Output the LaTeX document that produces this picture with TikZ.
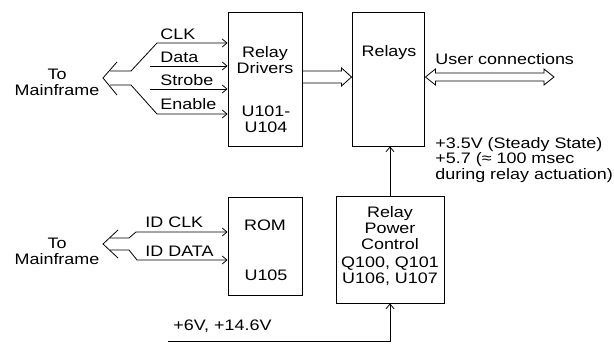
\documentclass[tikz,border=0pt]{standalone}
\usepackage{fontspec}
\setmainfont{Liberation Sans}[FakeStretch=1.18]
\usetikzlibrary{arrows.meta,calc,fit}

\begin{document}
\begin{tikzpicture}[
  x=0.75pt, y=-0.75pt,
  font=\fontsize{11.4}{12}\selectfont,
  line width=0.6pt,
  >={Straight Barb[length=3.5pt,width=6pt]},
  box/.style={draw, inner sep=0pt, line width=0.7pt},
  txt/.style={align=center, inner sep=0pt},
  lbl/.style={anchor=base west, inner sep=0pt},
]
\useasboundingbox (0,0) rectangle (614,345);

% ---- blocks ----
\node[box, fit={(228,12) (302,146)}] (drv) {};
\node[box, fit={(352,12) (424,146)}] (rel) {};
\node[box, fit={(228,197) (302,295)}] (rom) {};
\node[box, fit={(336,196) (444,303)}] (pwr) {};

\node[txt] (drvname) at (265,60) {Relay\\Drivers};
\node[txt] (drvic) at (266,119) {U101-\\U104};
\node[txt] (relname) at (389,53) {Relays};
\node[txt] (romname) at (265,225) {ROM};
\node[txt] (romic) at (266,275) {U105};
\node[txt] (pwrname) at (390,246)
  {Relay\\Power\\Control\\[2pt]Q100, Q101\\U106, U107};

% ---- control bus from mainframe ----
\node[txt] (mfA) at (57,82) {To\\Mainframe};
\coordinate (busA) at (103,78);
\draw (117,62) -- (busA) -- (117,95);
\coordinate (clk) at (157,43);
\coordinate (dat) at (150,66);
\coordinate (stb) at (150,89);
\coordinate (enb) at (157,114);
\draw[->] (110,71) -- (131,71) -- (clk) -- (clk -| drv.west);
\draw[->] (dat) -- (dat -| drv.west);
\draw[->] (stb) -- (stb -| drv.west);
\draw[->] (110,85) -- (131,85) -- (enb) -- (enb -| drv.west);
\node[lbl] (clklbl) at (160,40) {CLK};
\node[lbl] (datlbl) at (160,63) {Data};
\node[lbl] (stblbl) at (160,86) {Strobe};
\node[lbl] (enblbl) at (160,110) {Enable};

% ---- ID bus from mainframe ----
\node[txt] (mfB) at (57,251) {To\\Mainframe};
\coordinate (busB) at (103,244);
\draw (118,230) -- (busB) -- (118,258);
\coordinate (idc) at (136,232);
\coordinate (idd) at (137,260);
\draw[->] (110,238) -- (129,238) -- (idc) -- (idc -| rom.west);
\draw[->] (110,250) -- (129,250) -- (idd) -- (idd -| rom.west);
\node[lbl] (idclbl) at (145,228) {ID CLK};
\node[lbl] (iddlbl) at (145,257) {ID DATA};

% ---- drivers to relays (hollow arrow) ----
\coordinate (h1) at ($(drv.east)+(0,-2)$);
\coordinate (h2) at ($(rel.west)+(0,-2)$);
\draw ($(h1)+(0,-6)$) -- ($(h2)+(-10,-6)$) -- ($(h2)+(-10,-9)$) -- (h2)
  -- ($(h2)+(-10,9)$) -- ($(h2)+(-10,6)$) -- ($(h1)+(0,6)$);

% ---- user connections (double hollow arrow) ----
\coordinate (u1) at ($(rel.east)+(1,-2)$);
\coordinate (usr) at (554,77);
\draw (u1) -- ($(u1)+(10,-8)$) -- ($(u1)+(10,-4)$) -- ($(usr)+(-10,-4)$)
  -- ($(usr)+(-10,-8)$) -- (usr) -- ($(usr)+(-10,8)$) -- ($(usr)+(-10,4)$)
  -- ($(u1)+(10,4)$) -- ($(u1)+(10,8)$) -- cycle;
\node[lbl] (usrlbl) at (435,65) {User connections};

% ---- relay power ----
\draw[->] (pwr.north) -- (pwr.north |- rel.south);
\node[anchor=north west, align=left, inner sep=0pt,
      font=\fontsize{11.4}{9.8}\selectfont] (vlbl) at (435,137)
  {+3.5V (Steady State)\\+5.7 (≈ 100 msec\\during relay actuation)};

\coordinate (sup) at (168,341);
\draw[->] (sup) -| (pwr.south);
\node[lbl] (suplbl) at (173,330) {+6V, +14.6V};

\end{tikzpicture}
\end{document}
